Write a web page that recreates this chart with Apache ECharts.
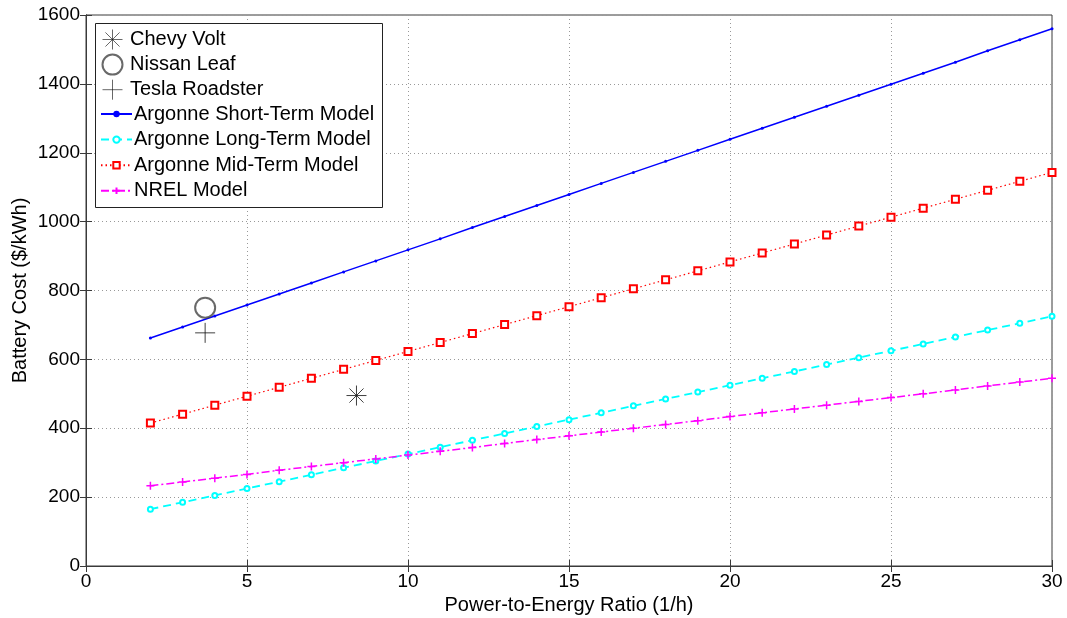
<!DOCTYPE html>
<html>
<head>
<meta charset="utf-8">
<script src="https://cdn.jsdelivr.net/npm/echarts@6/dist/echarts.min.js"></script>
<style>
  html, body { margin: 0; padding: 0; background: #fff; }
  #chart { width: 1067px; height: 618px; }
</style>
</head>
<body>
<div id="chart"></div>
<script>
// power-to-energy ratio (1/h)
let ratios = [2, 3, 4, 5, 6, 7, 8, 9, 10, 11, 12, 13, 14, 15, 16, 17, 18, 19, 20,
    21, 22, 23, 24, 25, 26, 27, 28, 29, 30];

// battery cost ($/kWh)
let shortTerm = [662, 694, 726, 758, 790, 822, 854, 886, 918, 950, 983, 1015, 1047, 1079,
    1111, 1143, 1175, 1207, 1239, 1271, 1303, 1335, 1367, 1399, 1431, 1463, 1496, 1528, 1560];
let longTerm = [165, 185, 205, 225, 245, 265, 285, 305, 325, 345, 365, 385, 405, 425,
    445, 465, 485, 505, 525, 545, 565, 585, 605, 625, 645, 665, 685, 705, 725];
let midTerm = [415, 441, 467, 493, 519, 545, 571, 597, 623, 649, 675, 701, 727, 753,
    779, 805, 831, 857, 883, 909, 935, 961, 987, 1013, 1039, 1065, 1091, 1117, 1143];
let nrel = [233, 244, 255, 266, 278, 289, 300, 311, 322, 333, 344, 356, 367, 378,
    389, 400, 411, 422, 434, 445, 456, 467, 478, 489, 500, 511, 523, 534, 545];

// single vehicles [ratio, cost]
let chevyVolt = [[8.4, 495]];
let nissanLeaf = [[3.7, 750]];
let teslaRoadster = [[3.7, 677]];

let asterisk = 'path://M0,-10L0,10M-10,0L10,0M-7.07,-7.07L7.07,7.07M-7.07,7.07L7.07,-7.07';
let plus = 'path://M0,-10L0,10M-10,0L10,0';

function pairs(values) {
    return ratios.map(function (r, i) { return [r, values[i]]; });
}

let font = 'Liberation Sans, Arial, sans-serif';
let axisColor = '#3a3a3a';

let myChart = echarts.init(document.getElementById('chart'));

let option = {
    animation: false,
    textStyle: { fontFamily: font },
    grid: {
        left: 86,
        right: 15,
        top: 15,
        bottom: 52,
        outerBoundsMode: 'none',
        containLabel: false,
        show: true,
        borderColor: axisColor,
        borderWidth: 1
    },
    // legend frame, two legends sit inside it
    graphic: [{
        type: 'rect',
        left: 95,
        top: 23,
        shape: { width: 287, height: 184 },
        style: { fill: '#fff', stroke: '#222', lineWidth: 1 },
        z: 10
    }],
    legend: [
        {
            orient: 'vertical',
            left: 100,
            top: 27,
            padding: 0,
            itemWidth: 31,
            itemHeight: 20,
            itemGap: 1.6,
            z: 20,
            itemStyle: { borderWidth: 0.8 },
            textStyle: { fontSize: 20, color: '#000', padding: [0, 0, 0, -3] },
            data: ['Chevy Volt', 'Nissan Leaf', 'Tesla Roadster']
        },
        {
            orient: 'vertical',
            left: 100,
            top: 104,
            padding: 0,
            itemWidth: 31,
            itemHeight: 8,
            itemGap: 5.6,
            z: 20,
            textStyle: { fontSize: 20, color: '#000', padding: [0, 0, 0, -3] },
            data: ['Argonne Short-Term Model', 'Argonne Long-Term Model',
                'Argonne Mid-Term Model', 'NREL Model']
        }
    ],
    xAxis: [
        {
            type: 'value',
            min: 0,
            max: 30,
            interval: 5,
            name: 'Power-to-Energy Ratio (1/h)',
            nameLocation: 'middle',
            nameGap: 26,
            nameTextStyle: { fontSize: 20, color: '#000' },
            axisLine: { show: true, lineStyle: { color: axisColor } },
            axisTick: { inside: true, length: 6, lineStyle: { color: axisColor } },
            axisLabel: { fontSize: 19, color: '#000', margin: 6 },
            splitLine: { show: true, lineStyle: { color: '#999', type: [1, 3] } }
        },
        {
            type: 'value',
            position: 'top',
            min: 0,
            max: 30,
            interval: 5,
            axisLine: { show: true, lineStyle: { color: axisColor } },
            axisTick: { inside: true, length: 6, lineStyle: { color: axisColor } },
            axisLabel: { show: false },
            splitLine: { show: false }
        }
    ],
    yAxis: [
        {
            type: 'value',
            min: 0,
            max: 1600,
            interval: 200,
            name: 'Battery Cost ($/kWh)',
            nameLocation: 'middle',
            nameGap: 56,
            nameMoveOverlap: false,
            nameTextStyle: { fontSize: 20, color: '#000' },
            axisLine: { show: true, lineStyle: { color: axisColor } },
            axisTick: { show: true, inside: true, length: 6, lineStyle: { color: axisColor } },
            axisLabel: {
                fontSize: 19,
                color: '#000',
                margin: 6,
                formatter: function (v) { return String(v); }
            },
            splitLine: { show: true, lineStyle: { color: '#999', type: [1, 3] } }
        },
        {
            type: 'value',
            position: 'right',
            min: 0,
            max: 1600,
            interval: 200,
            axisLine: { show: true, lineStyle: { color: axisColor } },
            axisTick: { show: true, inside: true, length: 6, lineStyle: { color: axisColor } },
            axisLabel: { show: false },
            splitLine: { show: false }
        }
    ],
    series: [
        {
            name: 'Chevy Volt',
            type: 'scatter',
            data: chevyVolt,
            symbol: asterisk,
            symbolSize: 20,
            itemStyle: { color: 'none', borderColor: '#111', borderWidth: 1 },
            z: 5
        },
        {
            name: 'Nissan Leaf',
            type: 'scatter',
            data: nissanLeaf,
            symbol: 'emptyCircle',
            symbolSize: 20,
            itemStyle: { color: '#444', borderColor: '#444', borderWidth: 1 },
            z: 5
        },
        {
            name: 'Tesla Roadster',
            type: 'scatter',
            data: teslaRoadster,
            symbol: plus,
            symbolSize: 20,
            itemStyle: { color: 'none', borderColor: '#111', borderWidth: 1 },
            z: 5
        },
        {
            name: 'Argonne Short-Term Model',
            type: 'line',
            data: pairs(shortTerm),
            symbol: 'circle',
            symbolSize: 3,
            showAllSymbol: true,
            itemStyle: { color: '#0000ff' },
            lineStyle: { color: '#0000ff', width: 1.5 }
        },
        {
            name: 'Argonne Long-Term Model',
            type: 'line',
            data: pairs(longTerm),
            symbol: 'emptyCircle',
            symbolSize: 5,
            showAllSymbol: true,
            itemStyle: { color: '#00ffff', borderWidth: 1.2 },
            lineStyle: { color: '#00ffff', width: 1.8, type: [8, 5] }
        },
        {
            name: 'Argonne Mid-Term Model',
            type: 'line',
            data: pairs(midTerm),
            symbol: 'emptyRect',
            symbolSize: 7,
            showAllSymbol: true,
            itemStyle: { color: '#ff0000', borderWidth: 1.5 },
            lineStyle: { color: '#ff0000', width: 1.2, type: [1.5, 3] }
        },
        {
            name: 'NREL Model',
            type: 'line',
            data: pairs(nrel),
            symbol: plus,
            symbolSize: 8,
            showAllSymbol: true,
            itemStyle: { color: 'none', borderColor: '#ff00ff', borderWidth: 1.5 },
            lineStyle: { color: '#ff00ff', width: 1.5, type: [8, 3, 2, 3] }
        }
    ]
};

myChart.setOption(option);
</script>
</body>
</html>
